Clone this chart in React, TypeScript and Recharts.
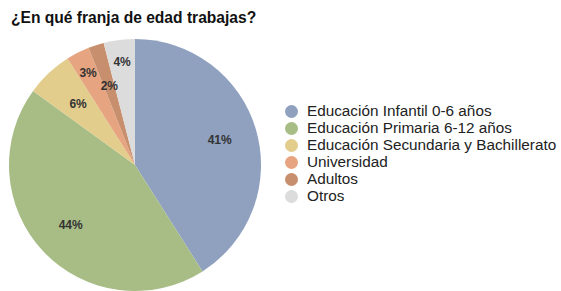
import React from "react";
import { PieChart, Pie, Cell, Legend } from "recharts";

const categories = [
  "Educación Infantil 0-6 años",
  "Educación Primaria 6-12 años",
  "Educación Secundaria y Bachillerato",
  "Universidad",
  "Adultos",
  "Otros",
];
const percents = [41, 44, 6, 3, 2, 4];
const COLORS = ["#8fa1bf", "#a7bd85", "#e2cd8c", "#e6a481", "#c78f6d", "#dcdcdc"];

const data = categories.map((name, i) => ({ name, value: percents[i] }));

const RAD = Math.PI / 180;

const renderLabel = (props: any) => {
  const { cx, cy, midAngle, outerRadius, percent, index } = props;
  // big slices sit a bit further out; small ones alternate so they do not overlap
  let f = 0.66;
  if (percent >= 0.3) f = 0.7;
  else if (percent < 0.05 && index % 2 === 1) f = 0.82;
  const r = outerRadius * f;
  const x = cx + r * Math.cos(-midAngle * RAD);
  const y = cy + r * Math.sin(-midAngle * RAD);
  return (
    <text
      x={x}
      y={y}
      textAnchor="middle"
      dominantBaseline="central"
      fontSize={12}
      fontWeight="bold"
      fill="#333333"
      fontFamily="Liberation Sans, Arial, sans-serif"
    >
      {`${Math.round(percent * 100)}%`}
    </text>
  );
};

const renderLegend = () => (
  <div style={{ fontFamily: "Liberation Sans, Arial, sans-serif" }}>
    {data.map((d, i) => (
      <div
        key={d.name}
        style={{ display: "flex", alignItems: "center", height: 17, fontSize: 15.3, color: "#222" }}
      >
        <span
          style={{
            width: 13,
            height: 13,
            borderRadius: "50%",
            background: COLORS[i],
            marginRight: 9,
            display: "inline-block",
            flexShrink: 0,
          }}
        />
        {d.name}
      </div>
    ))}
  </div>
);

export default function App() {
  return (
    <div style={{ position: "absolute", left: 0, top: 0, width: 561, height: 291, background: "#fff" }}>
      <div
        style={{
          position: "absolute",
          left: 11,
          top: 9,
          fontFamily: "Liberation Sans, Arial, sans-serif",
          fontWeight: "bold",
          fontSize: 15.6,
          color: "#111",
          zIndex: 1,
          whiteSpace: "nowrap",
        }}
      >
        ¿En qué franja de edad trabajas?
      </div>
      <PieChart width={561} height={291}>
        <Pie
          data={data}
          dataKey="value"
          nameKey="name"
          cx={130}
          cy={160}
          outerRadius={126}
          startAngle={90}
          endAngle={-270}
          stroke="none"
          label={renderLabel}
          labelLine={false}
          isAnimationActive={false}
        >
          {data.map((_, index) => (
            <Cell key={`cell-${index}`} fill={COLORS[index % COLORS.length]} />
          ))}
        </Pie>
        <Legend
          layout="vertical"
          content={renderLegend}
          wrapperStyle={{ left: 285, top: 102.5, width: 276 }}
        />
      </PieChart>
    </div>
  );
}
